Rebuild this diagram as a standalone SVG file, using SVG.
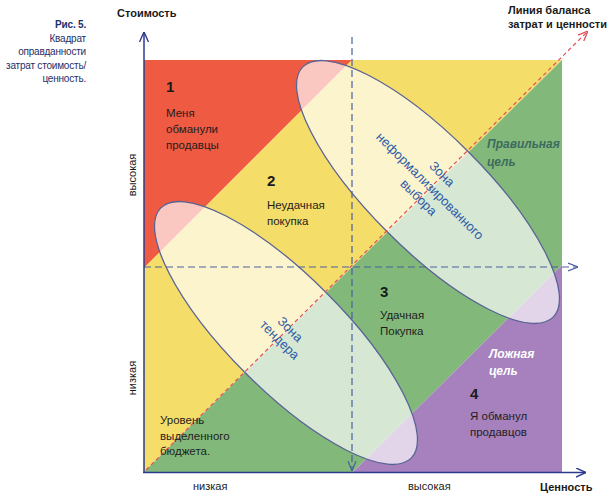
<svg xmlns="http://www.w3.org/2000/svg" width="613" height="497" viewBox="0 0 613 497">
<style>
text{font-family:"Liberation Sans",Arial,sans-serif;}
.cap{font-size:10px;fill:#1d2f6a;text-anchor:end;letter-spacing:-0.2px;}
.lbl{font-size:11px;fill:#1a1a1a;}
.ax{font-size:11px;fill:#1a1a1a;font-weight:bold;}
.num{font-size:15px;fill:#1a1a1a;font-weight:bold;}
.body{font-size:11.5px;fill:#1e1e1e;}
.zone{font-size:13px;fill:#2e5caa;text-anchor:middle;}
.goal{font-size:12px;font-weight:bold;font-style:italic;}
.ell{fill:#ffffff;fill-opacity:0.67;stroke:#5a6396;stroke-width:1.3;}
.axis{stroke:#2d3a8c;stroke-width:1.5;fill:none;}
.mid{stroke:#4a5fa0;stroke-width:1.2;stroke-dasharray:7 4;fill:none;}
.diag{stroke:#e0505a;stroke-width:1.2;stroke-dasharray:4 3;fill:none;}
</style>
<defs>
<marker id="mAxis" viewBox="0 0 10 10" refX="10" refY="5" markerWidth="10" markerHeight="10" markerUnits="userSpaceOnUse" orient="auto"><path d="M0,0.5 L10,5 L0,9.5" fill="none" stroke="#2d3a8c" stroke-width="1.4"/></marker>
<marker id="mMid" viewBox="0 0 10 10" refX="10" refY="5" markerWidth="10" markerHeight="10" markerUnits="userSpaceOnUse" orient="auto"><path d="M0,1 L10,5 L0,9" fill="none" stroke="#4a5fa0" stroke-width="1.2"/></marker>
<marker id="mDiag" viewBox="0 0 10 10" refX="10" refY="5" markerWidth="10" markerHeight="10" markerUnits="userSpaceOnUse" orient="auto"><path d="M0,1 L10,5 L0,9" fill="none" stroke="#e0505a" stroke-width="1.3"/></marker>
</defs>
<rect width="613" height="497" fill="#ffffff"/>

<g id="zones">
<polygon id="zone-red" points="144,60 352,60 144,268" fill="#ef5a42"/>
<polygon id="zone-yellow" points="352,60 562,60 144,472 144,268" fill="#f5dd69"/>
<polygon id="zone-green" points="562,60 562,265 353,472 144,472" fill="#82b97a"/>
<polygon id="zone-purple" points="562,265 562,472 353,472" fill="#a681bd"/>
</g>

<g id="ellipse-informal">
<ellipse class="ell" cx="428" cy="192" rx="177" ry="57" transform="rotate(45 428 192)"/>
</g>
<g id="ellipse-tender">
<ellipse class="ell" cx="286" cy="333" rx="177" ry="57" transform="rotate(45 286 333)"/>
</g>

<g id="connectors">
<line class="mid" x1="144" y1="267" x2="578" y2="267" marker-end="url(#mMid)"/>
<line class="mid" x1="352" y1="37" x2="352" y2="471" marker-end="url(#mMid)"/>
<line class="diag" x1="146" y1="470" x2="588" y2="31" marker-end="url(#mDiag)"/>
<line class="axis" x1="144" y1="473" x2="144" y2="32" marker-end="url(#mAxis)"/>
<line class="axis" x1="143" y1="472.5" x2="586" y2="472.5" marker-end="url(#mAxis)"/>
</g>

<g id="caption">
<text class="cap" x="86" y="28" font-weight="bold" fill="#1f3a80">Рис. 5.</text>
<text class="cap" x="86" y="41.5">Квадрат</text>
<text class="cap" x="86" y="55">оправданности</text>
<text class="cap" x="86" y="68.5">затрат стоимость/</text>
<text class="cap" x="86" y="82">ценность.</text>
</g>

<g id="axis-labels">
<text class="ax" x="117" y="16.5">Стоимость</text>
<text class="ax" x="540" y="490.5">Ценность</text>
<text class="lbl" x="193" y="489.5">низкая</text>
<text class="lbl" x="408" y="489.5">высокая</text>
<text class="lbl" transform="translate(135.5,175) rotate(-90)" text-anchor="middle">высокая</text>
<text class="lbl" transform="translate(135.5,378) rotate(-90)" text-anchor="middle">низкая</text>
<text class="ax" x="508" y="13.5">Линия баланса</text>
<text class="ax" x="508" y="27.5">затрат и ценности</text>
</g>

<g id="node-1">
<text class="num" x="166" y="92">1</text>
<text class="body" x="166" y="117">Меня</text>
<text class="body" x="166" y="133">обманули</text>
<text class="body" x="166" y="149">продавцы</text>
</g>
<g id="node-2">
<text class="num" x="267" y="186">2</text>
<text class="body" x="267" y="209">Неудачная</text>
<text class="body" x="267" y="225">покупка</text>
</g>
<g id="node-3">
<text class="num" x="380" y="297">3</text>
<text class="body" x="380" y="318.5">Удачная</text>
<text class="body" x="380" y="335">Покупка</text>
</g>
<g id="node-4">
<text class="num" x="470" y="398.5">4</text>
<text class="body" x="470" y="419.5">Я обманул</text>
<text class="body" x="470" y="435.5">продавцов</text>
</g>
<g id="node-budget">
<text class="body" x="160" y="423.5">Уровень</text>
<text class="body" x="160" y="439.5">выделенного</text>
<text class="body" x="160" y="455">бюджета.</text>
</g>
<g id="node-right-goal">
<text class="goal" x="487" y="148" fill="#3d6b5e">Правильная</text>
<text class="goal" x="487" y="165.5" fill="#3d6b5e">цель</text>
</g>
<g id="node-false-goal">
<text class="goal" x="489" y="357.5" fill="#ffffff">Ложная</text>
<text class="goal" x="489" y="375" fill="#ffffff">цель</text>
</g>
<g id="label-informal" transform="translate(430,186) rotate(45)">
<text class="zone" x="0" y="-12.5">Зона</text>
<text class="zone" x="0" y="4.5">неформализированного</text>
<text class="zone" x="0" y="20.5">выбора</text>
</g>
<g id="label-tender" transform="translate(285,334.5) rotate(45)">
<text class="zone" x="0" y="-3">Зона</text>
<text class="zone" x="0" y="12">тендера</text>
</g>
</svg>
